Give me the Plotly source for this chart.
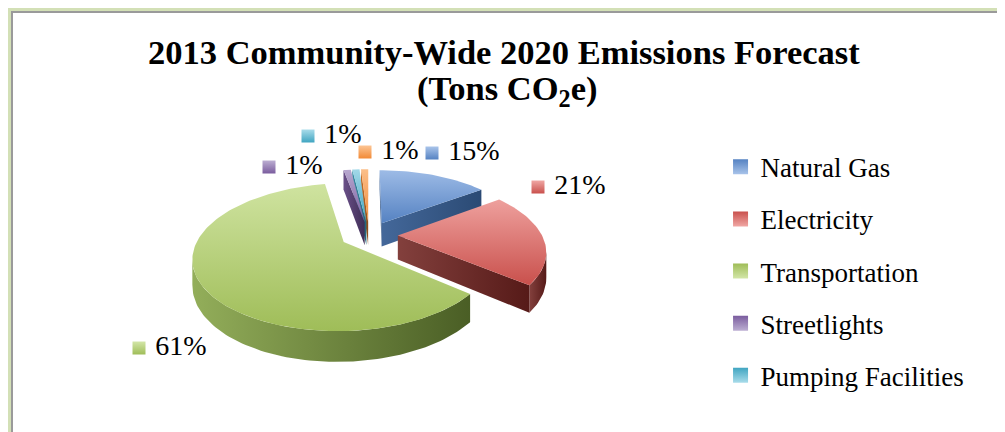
import numpy as np
import plotly.graph_objects as go

# ---------------- data ----------------
categories = ["Natural Gas", "Electricity", "Transportation", "Streetlights",
              "Pumping Facilities", "Other"]
values = [15, 21, 61, 1, 1, 1]
in_legend = [True, True, True, True, True, False]
title_line1 = "2013 Community-Wide 2020 Emissions Forecast"
title_line2 = "(Tons CO<sub>2</sub>e)"

# ---------------- styles ----------------
top_light = ["#9dbbe6", "#eea09d", "#cfe3a0", "#b8a8cf", "#a2d8e8", "#fbbf8a"]
top_dark = ["#5582c2", "#c9504c", "#9fbd58", "#7a5c9e", "#40a5c1", "#f28a36"]
wall_light = ["#44689a", "#83403d", "#93ae5a", "#6a5088", "#3a8ea6", "#c9722c"]
wall_dark = ["#2b4a74", "#561a18", "#4a5e25", "#3f2e56", "#22657a", "#8a4a16"]
swatch_light = ["#a9c4ea", "#f0a7a4", "#d3e6a8", "#bcaed2", "#a9dcea", "#fcc594"]
label_pos_px = [(424, 145), (530, 179), (131, 340), (261, 159), (300, 128), (357, 144)]

W, H = 1005, 432
CX, CY = 361.0, 227.0          # pixel centre of the un-exploded pie
RX, RY = 144.0, 68.0
PERSP = 0.2
DEPTH = 24.0
EXPLODE = 0.2
FONT = "Liberation Serif"


def proj(X, Y, z=0.0):
    s = 1.0 / (1.0 + PERSP * np.asarray(Y))
    xs = CX + RX * np.asarray(X) * s
    ys = CY - RY * np.asarray(Y) * s + z * DEPTH * s
    return xs, H - ys


cam = np.array([0.0, -1.0 / PERSP])

total = float(sum(values))
fracs = [v / total for v in values]
starts = np.concatenate([[0.0], np.cumsum(fracs)[:-1]]) * 2 * np.pi
ends = np.cumsum(fracs) * 2 * np.pi

fig = go.Figure()

slice_traces = []
for i, (a0, a1) in enumerate(zip(starts, ends)):
    m = 0.5 * (a0 + a1)
    O = EXPLODE * np.array([np.sin(m), np.cos(m)])
    n = max(4, int((a1 - a0) / (2 * np.pi) * 240))
    th = np.linspace(a0, a1, n)
    AX = O[0] + np.sin(th)
    AY = O[1] + np.cos(th)
    parts = []
    # outer wall (front-facing part)
    vis = (np.sin(th) * (cam[0] - AX) + np.cos(th) * (cam[1] - AY)) > 0
    if vis.any():
        idx = np.where(vis)[0]
        segs = np.split(idx, np.where(np.diff(idx) != 1)[0] + 1)
        for sg in segs:
            lo, hi = max(sg[0] - 1, 0), min(sg[-1] + 1, n - 1)
            sx, sy = AX[lo:hi + 1], AY[lo:hi + 1]
            tx, ty = proj(sx, sy, 0)
            bx, by = proj(sx[::-1], sy[::-1], 1)
            parts.append((np.concatenate([tx, bx, tx[:1]]), np.concatenate([ty, by, ty[:1]])))
    # radial walls
    for ang, sign in ((a0, -1), (a1, 1)):
        nrm = sign * np.array([np.cos(ang), -np.sin(ang)])
        E = O + np.array([np.sin(ang), np.cos(ang)])
        M = 0.5 * (O + E)
        if np.dot(nrm, cam - M) > 0:
            qx = np.array([O[0], E[0], E[0], O[0], O[0]])
            qy = np.array([O[1], E[1], E[1], O[1], O[1]])
            zz = np.array([0, 0, 1, 1, 0])
            px, py = proj(qx, qy, zz)
            parts.append((px, py))
    fx, fy = proj(np.concatenate([[O[0]], AX, [O[0]]]), np.concatenate([[O[1]], AY, [O[1]]]), 0)
    slice_traces.append((-O[1], i, parts, (fx, fy)))

# draw back-to-front
for _, i, walls, (fx, fy) in sorted(slice_traces, key=lambda t: t[0]):
    for wx, wy in walls:
        fig.add_trace(go.Scatter(
            x=wx, y=wy, mode="lines", fill="toself", line=dict(width=0),
            fillgradient=dict(type="horizontal",
                              colorscale=[[0, wall_light[i]], [1, wall_dark[i]]]),
            hoverinfo="skip", showlegend=False))
    fig.add_trace(go.Scatter(
        x=fx, y=fy, mode="lines", fill="toself", line=dict(width=0),
        fillgradient=dict(type="vertical",
                          colorscale=[[0, top_dark[i]], [1, top_light[i]]]),
        name=categories[i], hoverinfo="name", showlegend=False))

# data labels (swatch + percentage)
pct = ["\u00a0" + f"{round(v / total * 100)}%" for v in values]
lx = [p[0] for p in label_pos_px]
ly = [H - p[1] for p in label_pos_px]
fig.add_trace(go.Scatter(
    x=lx, y=ly, mode="markers+text", text=pct, textposition="middle right",
    textfont=dict(family=FONT, size=28, color="#000000"),
    marker=dict(symbol="square", size=13, color=swatch_light,
                gradient=dict(type="vertical", color=top_dark),
                line=dict(width=0)),
    hoverinfo="skip", showlegend=False))

# legend entries
for i, c in enumerate(categories):
    if not in_legend[i]:
        continue
    fig.add_trace(go.Scatter(
        x=[None], y=[None], mode="markers", name=c, legendgroup=c,
        marker=dict(symbol="square", size=15, color=top_dark[i],
                    gradient=dict(type="vertical", color=swatch_light[i]),
                    line=dict(width=0))))

shapes = [
    dict(type="rect", xref="x", yref="y", x0=0, x1=W, y0=H - 3, y1=H, line=dict(width=0), fillcolor="#d3e0b6", layer="above"),
    dict(type="rect", xref="x", yref="y", x0=0, x1=3, y0=0, y1=H, line=dict(width=0), fillcolor="#d3e0b6", layer="above"),
    dict(type="rect", xref="x", yref="y", x0=3, x1=W, y0=H - 5, y1=H - 3, line=dict(width=0), fillcolor="#9a9a9a", layer="above"),
    dict(type="rect", xref="x", yref="y", x0=3, x1=5, y0=0, y1=H - 3, line=dict(width=0), fillcolor="#9a9a9a", layer="above"),
    dict(type="rect", xref="x", yref="y", x0=5, x1=W, y0=1, y1=2, line=dict(width=0), fillcolor="#d9d9d9", layer="above"),
]

annotations = [
    dict(text=f"<b>{title_line1}</b>", xref="paper", yref="paper", x=0.494, y=1 - 44 / H,
         xanchor="center", yanchor="middle", showarrow=False,
         font=dict(family=FONT, size=34.5, color="#000000")),
    dict(text=f"<b>{title_line2}</b>", xref="paper", yref="paper", x=0.497, y=1 - 82 / H,
         xanchor="center", yanchor="middle", showarrow=False,
         font=dict(family=FONT, size=34.5, color="#000000")),
]

fig.update_layout(
    width=W, height=H,
    margin=dict(l=0, r=0, t=0, b=0),
    paper_bgcolor="white", plot_bgcolor="white",
    xaxis=dict(range=[0, W], visible=False, fixedrange=True),
    yaxis=dict(range=[0, H], visible=False, fixedrange=True),
    legend=dict(x=0.709, y=0.688, xanchor="left", yanchor="top",
                font=dict(family=FONT, size=27, color="#000000"),
                tracegroupgap=14, bgcolor="rgba(0,0,0,0)"),
    shapes=shapes,
    annotations=annotations,
    showlegend=True,
)

fig.write_html("out.html")
